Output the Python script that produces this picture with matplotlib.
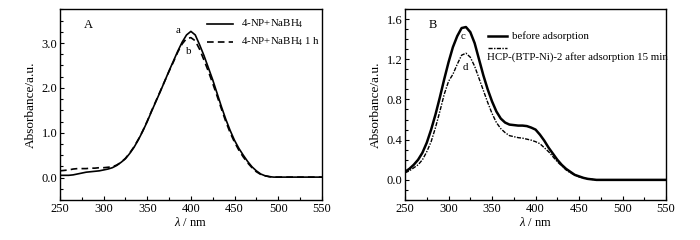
import numpy as np
import matplotlib
matplotlib.use("Agg")
import matplotlib.pyplot as plt
from matplotlib.ticker import MultipleLocator

plt.rcParams['font.family'] = ['Liberation Serif', 'DejaVu Serif']
plt.rcParams['mathtext.fontset'] = 'custom'
plt.rcParams['mathtext.rm'] = 'Liberation Serif'
plt.rcParams['mathtext.it'] = 'Liberation Serif:italic'

# wavelength grid (nm)
wl = list(range(250, 555, 5))

# panel A: 4-NP + NaBH4 (a) and after 1 h (b)
abs_a = [0.05, 0.05, 0.05, 0.06, 0.08, 0.10, 0.12, 0.13, 0.14, 0.15,
         0.17, 0.19, 0.22, 0.27, 0.34, 0.42, 0.54, 0.68, 0.85, 1.04,
         1.25, 1.48, 1.70, 1.92, 2.15, 2.38, 2.60, 2.82, 3.02, 3.18,
         3.26, 3.18, 2.96, 2.72, 2.45, 2.18, 1.88, 1.58, 1.30, 1.05,
         0.83, 0.65, 0.50, 0.36, 0.24, 0.15, 0.08, 0.04, 0.02, 0.01,
         0.01, 0.01, 0.01, 0.01, 0.01, 0.01, 0.01, 0.01, 0.01, 0.01, 0.01]
abs_b = [0.15, 0.16, 0.17, 0.19, 0.20, 0.20, 0.20, 0.21, 0.21, 0.22,
         0.22, 0.23, 0.24, 0.28, 0.34, 0.43, 0.55, 0.69, 0.86, 1.05,
         1.26, 1.49, 1.71, 1.93, 2.15, 2.37, 2.58, 2.80, 2.98, 3.10,
         3.12, 3.05, 2.86, 2.62, 2.37, 2.10, 1.82, 1.53, 1.25, 1.00,
         0.79, 0.61, 0.46, 0.33, 0.22, 0.13, 0.07, 0.04, 0.02, 0.01,
         0.01, 0.01, 0.01, 0.01, 0.01, 0.01, 0.01, 0.01, 0.01, 0.01, 0.01]

# panel B: before adsorption (c) and after adsorption 15 min (d)
abs_c = [0.08, 0.11, 0.15, 0.20, 0.27, 0.37, 0.50, 0.65, 0.82, 1.00,
         1.17, 1.32, 1.43, 1.51, 1.52, 1.47, 1.36, 1.20, 1.04, 0.90,
         0.78, 0.68, 0.61, 0.57, 0.55, 0.545, 0.54, 0.54, 0.535, 0.52,
         0.50, 0.45, 0.39, 0.32, 0.26, 0.20, 0.15, 0.11, 0.08, 0.05,
         0.035, 0.02, 0.01, 0.005, 0.0, 0.0, 0.0, 0.0, 0.0, 0.0,
         0.0, 0.0, 0.0, 0.0, 0.0, 0.0, 0.0, 0.0, 0.0, 0.0, 0.0]
abs_d = [0.07, 0.09, 0.12, 0.15, 0.20, 0.28, 0.38, 0.52, 0.68, 0.85,
         0.98, 1.05, 1.15, 1.24, 1.26, 1.22, 1.13, 1.01, 0.89, 0.77,
         0.66, 0.57, 0.51, 0.47, 0.44, 0.43, 0.42, 0.415, 0.405, 0.395,
         0.38, 0.36, 0.32, 0.28, 0.23, 0.18, 0.14, 0.10, 0.07, 0.05,
         0.03, 0.02, 0.01, 0.005, 0.0, 0.0, 0.0, 0.0, 0.0, 0.0,
         0.0, 0.0, 0.0, 0.0, 0.0, 0.0, 0.0, 0.0, 0.0, 0.0, 0.0]

fig = plt.figure(figsize=(7, 2.4), dpi=100)
axA = fig.add_axes([0.0857, 0.1667, 0.374, 0.796])
axB = fig.add_axes([0.5786, 0.1667, 0.373, 0.796])

fs = 9     # ticks, axis labels
lfs = 7.8  # legend / annotation text

def style(ax):
    ax.set_xlim(250, 550)
    ax.xaxis.set_major_locator(MultipleLocator(50))
    ax.xaxis.set_minor_locator(MultipleLocator(25))
    ax.tick_params(which='both', direction='in', top=False, right=False,
                   labelsize=fs, pad=2)
    ax.tick_params(which='major', length=3, width=0.8)
    ax.tick_params(which='minor', length=2, width=0.8)
    for s in ax.spines.values():
        s.set_linewidth(1.0)
    ax.set_xlabel('$\\lambda$ / nm', fontsize=fs, labelpad=1)
    ax.set_ylabel('Absorbance/a.u.', fontsize=9.5, labelpad=3)

# ---- A
axA.plot(wl, abs_a, color='black', lw=1.2)
axA.plot(wl, abs_b, color='black', lw=1.2, linestyle=(0, (4, 2.5)))
style(axA)
axA.set_ylim(-0.5, 3.76)
axA.yaxis.set_major_locator(MultipleLocator(1.0))
axA.yaxis.set_minor_locator(MultipleLocator(0.25))
axA.yaxis.set_major_formatter(matplotlib.ticker.FormatStrFormatter('%.1f'))
axA.text(0.092, 0.916, 'A', transform=axA.transAxes, fontsize=fs, va='center')
axA.text(385, 3.27, 'a', fontsize=lfs, ha='center', va='center')
axA.text(398, 2.82, 'b', fontsize=lfs, ha='center', va='center')
axA.plot([0.56, 0.66], [0.92, 0.92], color='black', lw=1.2, transform=axA.transAxes)
axA.plot([0.56, 0.66], [0.827, 0.827], color='black', lw=1.2,
         linestyle=(0, (4, 2.5)), transform=axA.transAxes)
axA.text(0.69, 0.92, '4-NP+NaBH$_4$', transform=axA.transAxes, fontsize=lfs, va='center')
axA.text(0.69, 0.827, '4-NP+NaBH$_4$ 1 h', transform=axA.transAxes, fontsize=lfs, va='center')

# ---- B
axB.plot(wl, abs_c, color='black', lw=1.8)
axB.plot(wl, abs_d, color='black', lw=1.0, linestyle=(0, (3, 1, 1, 1)))
style(axB)
axB.set_ylim(-0.2, 1.7)
axB.yaxis.set_major_locator(MultipleLocator(0.4))
axB.yaxis.set_minor_locator(MultipleLocator(0.1))
axB.yaxis.set_major_formatter(matplotlib.ticker.FormatStrFormatter('%.1f'))
axB.text(0.092, 0.916, 'B', transform=axB.transAxes, fontsize=fs, va='center')
axB.text(317, 1.43, 'c', fontsize=lfs, ha='center', va='center')
axB.text(319, 1.12, 'd', fontsize=lfs, ha='center', va='center')
axB.plot([0.318, 0.391], [0.859, 0.859], color='black', lw=1.8, transform=axB.transAxes)
axB.plot([0.318, 0.391], [0.795, 0.795], color='black', lw=1.0,
         linestyle=(0, (3, 1, 1, 1)), transform=axB.transAxes)
axB.text(0.41, 0.859, 'before adsorption', transform=axB.transAxes, fontsize=lfs, va='center')
axB.text(0.314, 0.75, 'HCP-(BTP-Ni)-2 after adsorption 15 min', transform=axB.transAxes,
         fontsize=lfs, va='center')

fig.savefig('out.png', dpi=100)
